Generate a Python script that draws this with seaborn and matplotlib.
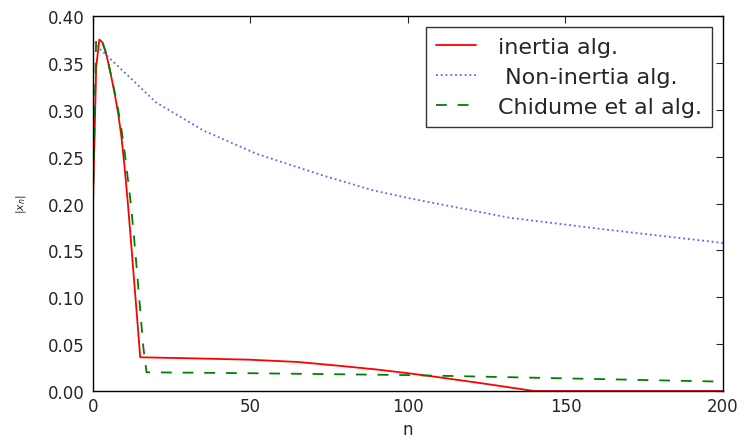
import numpy as np
import pandas as pd
import matplotlib
matplotlib.use("Agg")
import matplotlib.pyplot as plt
import seaborn as sns

# =============================
# DATA
# =============================
n_inertia = [0, 1, 2, 3, 4, 5, 6, 7, 8, 9, 10, 11, 12, 13, 14, 15,
             30, 50, 65, 78, 90, 100, 110, 125, 140, 170, 200]
x_inertia = [0.20, 0.345, 0.375, 0.372, 0.362, 0.348, 0.332, 0.315, 0.296, 0.272,
             0.240, 0.203, 0.162, 0.120, 0.078, 0.036,
             0.035, 0.0334, 0.031, 0.027, 0.023, 0.019, 0.0146, 0.0075, 0.0, 0.0, 0.0]

n_noninertia = [0, 10, 20, 35, 52, 73, 89, 100, 132, 161, 200]
x_noninertia = [0.372, 0.340, 0.308, 0.278, 0.253, 0.230, 0.214, 0.206, 0.185, 0.173, 0.158]

n_chidume = [0, 1, 2, 3, 4, 5, 6, 7, 8, 9, 10, 11, 12, 13, 14, 15, 16, 17,
             50, 100, 150, 200]
x_chidume = [0.20, 0.375, 0.376, 0.372, 0.362, 0.348, 0.333, 0.317, 0.300, 0.280,
             0.256, 0.228, 0.200, 0.165, 0.126, 0.086, 0.046, 0.020,
             0.019, 0.017, 0.0135, 0.010]

labels = ["inertia alg.", " Non-inertia alg.", "Chidume et al alg."]

# =============================
# STYLE
# =============================
sns.set_style("white")
plt.rcParams.update({
    "xtick.direction": "in",
    "ytick.direction": "in",
    "xtick.top": True,
    "ytick.right": True,
    "xtick.major.size": 5,
    "ytick.major.size": 5,
    "axes.edgecolor": "black",
    "axes.linewidth": 1.0,
})
plt.rcParams["font.family"] = ["DejaVu Sans"]

fig = plt.figure(figsize=(7.41, 4.39), dpi=100)
ax = fig.add_axes([0.1255, 0.107, 0.8502, 0.854])

# =============================
# PLOT
# =============================
sns.lineplot(x=n_inertia, y=x_inertia, ax=ax, color="red", lw=1.3,
             label=labels[0])
sns.lineplot(x=n_noninertia, y=x_noninertia, ax=ax, color="#6060ff", lw=1.3,
             linestyle=":", label=labels[1])
sns.lineplot(x=n_chidume, y=x_chidume, ax=ax, color="green", lw=1.3,
             linestyle=(0, (6, 6)), label=labels[2])

ax.set_xlim(0, 200)
ax.set_ylim(0, 0.40)
ax.set_xticks([0, 50, 100, 150, 200])
ax.set_yticks(np.arange(0, 0.41, 0.05))
ax.set_yticklabels([f"{v:.2f}" for v in np.arange(0, 0.41, 0.05)])
ax.tick_params(axis="y", labelsize=12, pad=6)
ax.tick_params(axis="x", labelsize=12, pad=4)
for s in ax.spines.values():
    s.set_visible(True)
    s.set_color("black")

ax.set_xlabel("n", fontsize=12, labelpad=4)
ax.set_ylabel("$|x_n|$", fontsize=8, labelpad=14)

leg = ax.legend(loc="upper right", fontsize=16, frameon=True, fancybox=False,
                borderaxespad=0.5, handlelength=1.8, handletextpad=1.0,
                borderpad=0.45, labelspacing=0.45)
leg.get_frame().set_edgecolor("black")
leg.get_frame().set_linewidth(1.0)

fig.savefig("out.png", dpi=100)
